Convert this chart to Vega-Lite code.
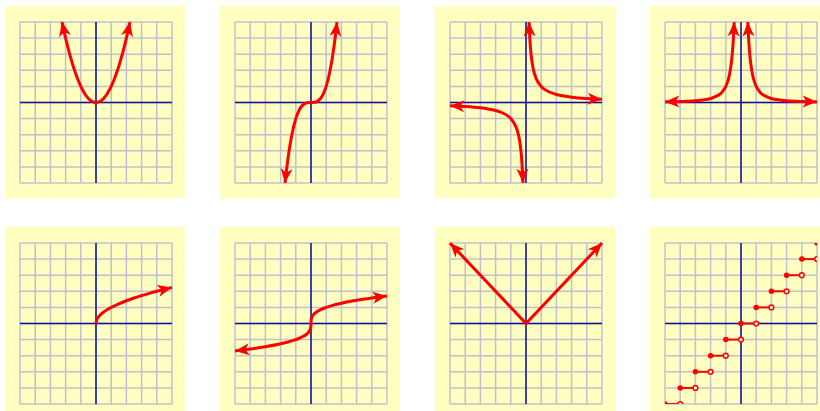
{
"$schema": "https://vega.github.io/schema/vega-lite/v6.json",
"background": "white",
"padding": {"left": 4, "top": 5, "right": 0, "bottom": 0},
"bounds": "flush",
"columns": 4,
"spacing": {"row": 60, "column": 63},
"config": {"view": {"stroke": null}, "axis": {"disable": true}},
"datasets": {
"grid": [{"g":-5},{"g":-4},{"g":-3},{"g":-2},{"g":-1},{"g":0},{"g":1},{"g":2},{"g":3},{"g":4},{"g":5}],
"curves": [
{"panel":1,"branch":"a","x":-2.236,"y":5},{"panel":1,"branch":"a","x":-2,"y":4},{"panel":1,"branch":"a","x":-1.75,"y":3.0625},{"panel":1,"branch":"a","x":-1.5,"y":2.25},{"panel":1,"branch":"a","x":-1.25,"y":1.5625},{"panel":1,"branch":"a","x":-1,"y":1},{"panel":1,"branch":"a","x":-0.75,"y":0.5625},{"panel":1,"branch":"a","x":-0.5,"y":0.25},{"panel":1,"branch":"a","x":-0.25,"y":0.0625},{"panel":1,"branch":"a","x":0,"y":0},{"panel":1,"branch":"a","x":0.25,"y":0.0625},{"panel":1,"branch":"a","x":0.5,"y":0.25},{"panel":1,"branch":"a","x":0.75,"y":0.5625},{"panel":1,"branch":"a","x":1,"y":1},{"panel":1,"branch":"a","x":1.25,"y":1.5625},{"panel":1,"branch":"a","x":1.5,"y":2.25},{"panel":1,"branch":"a","x":1.75,"y":3.0625},{"panel":1,"branch":"a","x":2,"y":4},{"panel":1,"branch":"a","x":2.236,"y":5},
{"panel":2,"branch":"a","x":-1.71,"y":-5},{"panel":2,"branch":"a","x":-1.5,"y":-3.375},{"panel":2,"branch":"a","x":-1.25,"y":-1.953},{"panel":2,"branch":"a","x":-1,"y":-1},{"panel":2,"branch":"a","x":-0.75,"y":-0.422},{"panel":2,"branch":"a","x":-0.5,"y":-0.125},{"panel":2,"branch":"a","x":-0.25,"y":-0.016},{"panel":2,"branch":"a","x":0,"y":0},{"panel":2,"branch":"a","x":0.25,"y":0.016},{"panel":2,"branch":"a","x":0.5,"y":0.125},{"panel":2,"branch":"a","x":0.75,"y":0.422},{"panel":2,"branch":"a","x":1,"y":1},{"panel":2,"branch":"a","x":1.25,"y":1.953},{"panel":2,"branch":"a","x":1.5,"y":3.375},{"panel":2,"branch":"a","x":1.71,"y":5},
{"panel":3,"branch":"p","x":0.2,"y":5},{"panel":3,"branch":"p","x":0.25,"y":4},{"panel":3,"branch":"p","x":0.3,"y":3.333},{"panel":3,"branch":"p","x":0.35,"y":2.857},{"panel":3,"branch":"p","x":0.4,"y":2.5},{"panel":3,"branch":"p","x":0.5,"y":2},{"panel":3,"branch":"p","x":0.6,"y":1.667},{"panel":3,"branch":"p","x":0.75,"y":1.333},{"panel":3,"branch":"p","x":1,"y":1},{"panel":3,"branch":"p","x":1.25,"y":0.8},{"panel":3,"branch":"p","x":1.5,"y":0.667},{"panel":3,"branch":"p","x":2,"y":0.5},{"panel":3,"branch":"p","x":2.5,"y":0.4},{"panel":3,"branch":"p","x":3,"y":0.333},{"panel":3,"branch":"p","x":4,"y":0.25},{"panel":3,"branch":"p","x":5,"y":0.2},
{"panel":3,"branch":"n","x":-0.2,"y":-5},{"panel":3,"branch":"n","x":-0.25,"y":-4},{"panel":3,"branch":"n","x":-0.3,"y":-3.333},{"panel":3,"branch":"n","x":-0.35,"y":-2.857},{"panel":3,"branch":"n","x":-0.4,"y":-2.5},{"panel":3,"branch":"n","x":-0.5,"y":-2},{"panel":3,"branch":"n","x":-0.6,"y":-1.667},{"panel":3,"branch":"n","x":-0.75,"y":-1.333},{"panel":3,"branch":"n","x":-1,"y":-1},{"panel":3,"branch":"n","x":-1.25,"y":-0.8},{"panel":3,"branch":"n","x":-1.5,"y":-0.667},{"panel":3,"branch":"n","x":-2,"y":-0.5},{"panel":3,"branch":"n","x":-2.5,"y":-0.4},{"panel":3,"branch":"n","x":-3,"y":-0.333},{"panel":3,"branch":"n","x":-4,"y":-0.25},{"panel":3,"branch":"n","x":-5,"y":-0.2},
{"panel":4,"branch":"p","x":0.447,"y":5},{"panel":4,"branch":"p","x":0.5,"y":4},{"panel":4,"branch":"p","x":0.55,"y":3.306},{"panel":4,"branch":"p","x":0.6,"y":2.778},{"panel":4,"branch":"p","x":0.7,"y":2.041},{"panel":4,"branch":"p","x":0.8,"y":1.563},{"panel":4,"branch":"p","x":0.9,"y":1.235},{"panel":4,"branch":"p","x":1,"y":1},{"panel":4,"branch":"p","x":1.25,"y":0.64},{"panel":4,"branch":"p","x":1.5,"y":0.444},{"panel":4,"branch":"p","x":2,"y":0.25},{"panel":4,"branch":"p","x":2.5,"y":0.16},{"panel":4,"branch":"p","x":3,"y":0.111},{"panel":4,"branch":"p","x":4,"y":0.0625},{"panel":4,"branch":"p","x":5,"y":0.04},
{"panel":4,"branch":"n","x":-0.447,"y":5},{"panel":4,"branch":"n","x":-0.5,"y":4},{"panel":4,"branch":"n","x":-0.55,"y":3.306},{"panel":4,"branch":"n","x":-0.6,"y":2.778},{"panel":4,"branch":"n","x":-0.7,"y":2.041},{"panel":4,"branch":"n","x":-0.8,"y":1.563},{"panel":4,"branch":"n","x":-0.9,"y":1.235},{"panel":4,"branch":"n","x":-1,"y":1},{"panel":4,"branch":"n","x":-1.25,"y":0.64},{"panel":4,"branch":"n","x":-1.5,"y":0.444},{"panel":4,"branch":"n","x":-2,"y":0.25},{"panel":4,"branch":"n","x":-2.5,"y":0.16},{"panel":4,"branch":"n","x":-3,"y":0.111},{"panel":4,"branch":"n","x":-4,"y":0.0625},{"panel":4,"branch":"n","x":-5,"y":0.04},
{"panel":5,"branch":"a","x":0,"y":0},{"panel":5,"branch":"a","x":0.05,"y":0.224},{"panel":5,"branch":"a","x":0.15,"y":0.387},{"panel":5,"branch":"a","x":0.3,"y":0.548},{"panel":5,"branch":"a","x":0.5,"y":0.707},{"panel":5,"branch":"a","x":0.75,"y":0.866},{"panel":5,"branch":"a","x":1,"y":1},{"panel":5,"branch":"a","x":1.5,"y":1.225},{"panel":5,"branch":"a","x":2,"y":1.414},{"panel":5,"branch":"a","x":2.5,"y":1.581},{"panel":5,"branch":"a","x":3,"y":1.732},{"panel":5,"branch":"a","x":3.5,"y":1.871},{"panel":5,"branch":"a","x":4,"y":2},{"panel":5,"branch":"a","x":4.5,"y":2.121},{"panel":5,"branch":"a","x":5,"y":2.236},
{"panel":6,"branch":"a","x":-5,"y":-1.71},{"panel":6,"branch":"a","x":-4,"y":-1.587},{"panel":6,"branch":"a","x":-3,"y":-1.442},{"panel":6,"branch":"a","x":-2,"y":-1.26},{"panel":6,"branch":"a","x":-1.5,"y":-1.145},{"panel":6,"branch":"a","x":-1,"y":-1},{"panel":6,"branch":"a","x":-0.5,"y":-0.794},{"panel":6,"branch":"a","x":-0.25,"y":-0.63},{"panel":6,"branch":"a","x":-0.1,"y":-0.464},{"panel":6,"branch":"a","x":-0.02,"y":-0.271},{"panel":6,"branch":"a","x":0,"y":0},{"panel":6,"branch":"a","x":0.02,"y":0.271},{"panel":6,"branch":"a","x":0.1,"y":0.464},{"panel":6,"branch":"a","x":0.25,"y":0.63},{"panel":6,"branch":"a","x":0.5,"y":0.794},{"panel":6,"branch":"a","x":1,"y":1},{"panel":6,"branch":"a","x":1.5,"y":1.145},{"panel":6,"branch":"a","x":2,"y":1.26},{"panel":6,"branch":"a","x":3,"y":1.442},{"panel":6,"branch":"a","x":4,"y":1.587},{"panel":6,"branch":"a","x":5,"y":1.71},
{"panel":7,"branch":"a","x":-5,"y":5},{"panel":7,"branch":"a","x":0,"y":0},{"panel":7,"branch":"a","x":5,"y":5}
],
"arrows": [
{"panel":1,"x":-2.236,"y":5,"heading":-11.9},{"panel":1,"x":2.236,"y":5,"heading":11.9},
{"panel":2,"x":1.71,"y":5,"heading":6.2},{"panel":2,"x":-1.71,"y":-5,"heading":186.2},
{"panel":3,"x":0.2,"y":5,"heading":-2.2},{"panel":3,"x":5,"y":0.2,"heading":92.4},{"panel":3,"x":-5,"y":-0.2,"heading":-87.6},{"panel":3,"x":-0.2,"y":-5,"heading":177.8},
{"panel":4,"x":0.447,"y":5,"heading":-2.4},{"panel":4,"x":5,"y":0.04,"heading":91},{"panel":4,"x":-0.447,"y":5,"heading":2.4},{"panel":4,"x":-5,"y":0.04,"heading":-91},
{"panel":5,"x":5,"y":2.236,"heading":76.7},
{"panel":6,"x":5,"y":1.71,"heading":83.1},{"panel":6,"x":-5,"y":-1.71,"heading":-96.9},
{"panel":7,"x":-5,"y":5,"heading":-43.4},{"panel":7,"x":5,"y":5,"heading":43.4}
],
"steps": [
{"x":-5,"xe":-4,"y":-5},{"x":-4,"xe":-3,"y":-4},{"x":-3,"xe":-2,"y":-3},{"x":-2,"xe":-1,"y":-2},{"x":-1,"xe":0,"y":-1},{"x":0,"xe":1,"y":0},{"x":1,"xe":2,"y":1},{"x":2,"xe":3,"y":2},{"x":3,"xe":4,"y":3},{"x":4,"xe":5,"y":4}
],
"dots": [
{"kind":"closed","x":-5,"y":-5},{"kind":"closed","x":-4,"y":-4},{"kind":"closed","x":-3,"y":-3},{"kind":"closed","x":-2,"y":-2},{"kind":"closed","x":-1,"y":-1},{"kind":"closed","x":0,"y":0},{"kind":"closed","x":1,"y":1},{"kind":"closed","x":2,"y":2},{"kind":"closed","x":3,"y":3},{"kind":"closed","x":4,"y":4},{"kind":"closed","x":5,"y":5},
{"kind":"open","x":-4,"y":-5},{"kind":"open","x":-3,"y":-4},{"kind":"open","x":-2,"y":-3},{"kind":"open","x":-1,"y":-2},{"kind":"open","x":0,"y":-1},{"kind":"open","x":1,"y":0},{"kind":"open","x":2,"y":1},{"kind":"open","x":3,"y":2},{"kind":"open","x":4,"y":3},{"kind":"open","x":5,"y":4}
]
},
"concat": [
{"width":152,"height":161,"layer":[
{"data":{"values":[{}]},"mark":{"type":"rect","color":"#ffffc0"},"encoding":{"x":{"datum":-6,"type":"quantitative","scale":{"domain":[-5,5],"nice":false,"zero":false}},"x2":{"datum":5.85},"y":{"datum":-5.95,"type":"quantitative","scale":{"domain":[-5,5],"nice":false,"zero":false}},"y2":{"datum":6}}},
{"data":{"name":"grid"},"mark":{"type":"rule","color":"#c0c0d0","strokeWidth":1.5},"encoding":{"x":{"field":"g","type":"quantitative","scale":{"domain":[-5,5],"nice":false,"zero":false}},"y":{"datum":-5,"type":"quantitative","scale":{"domain":[-5,5],"nice":false,"zero":false}},"y2":{"datum":5}}},
{"data":{"name":"grid"},"mark":{"type":"rule","color":"#c0c0d0","strokeWidth":1.5},"encoding":{"y":{"field":"g","type":"quantitative","scale":{"domain":[-5,5],"nice":false,"zero":false}},"x":{"datum":-5,"type":"quantitative","scale":{"domain":[-5,5],"nice":false,"zero":false}},"x2":{"datum":5}}},
{"data":{"values":[{}]},"mark":{"type":"rule","color":"#101090","strokeWidth":1.5},"encoding":{"x":{"datum":0,"type":"quantitative","scale":{"domain":[-5,5],"nice":false,"zero":false}},"y":{"datum":-5,"type":"quantitative","scale":{"domain":[-5,5],"nice":false,"zero":false}},"y2":{"datum":5}}},
{"data":{"values":[{}]},"mark":{"type":"rule","color":"#101090","strokeWidth":1.5},"encoding":{"y":{"datum":0,"type":"quantitative","scale":{"domain":[-5,5],"nice":false,"zero":false}},"x":{"datum":-5,"type":"quantitative","scale":{"domain":[-5,5],"nice":false,"zero":false}},"x2":{"datum":5}}},
{"data":{"name":"curves"},"transform":[{"filter":"datum.panel==1"}],"mark":{"type":"line","color":"#ff0000","strokeWidth":3,"interpolate":"monotone","strokeCap":"butt"},"encoding":{"x":{"field":"x","type":"quantitative","scale":{"domain":[-5,5],"nice":false,"zero":false}},"y":{"field":"y","type":"quantitative","scale":{"domain":[-5,5],"nice":false,"zero":false}},"detail":{"field":"branch"}}},
{"data":{"name":"arrows"},"transform":[{"filter":"datum.panel==1"}],"mark":{"type":"point","shape":"M0,0L0.75,1.8L0,1.3L-0.75,1.8Z","filled":true,"color":"#ff0000","opacity":1,"size":256,"strokeWidth":0},"encoding":{"x":{"field":"x","type":"quantitative","scale":{"domain":[-5,5],"nice":false,"zero":false}},"y":{"field":"y","type":"quantitative","scale":{"domain":[-5,5],"nice":false,"zero":false}},"angle":{"field":"heading","type":"quantitative","scale":null}}}
]},
{"width":152,"height":161,"layer":[
{"data":{"values":[{}]},"mark":{"type":"rect","color":"#ffffc0"},"encoding":{"x":{"datum":-6,"type":"quantitative","scale":{"domain":[-5,5],"nice":false,"zero":false}},"x2":{"datum":5.85},"y":{"datum":-5.95,"type":"quantitative","scale":{"domain":[-5,5],"nice":false,"zero":false}},"y2":{"datum":6}}},
{"data":{"name":"grid"},"mark":{"type":"rule","color":"#c0c0d0","strokeWidth":1.5},"encoding":{"x":{"field":"g","type":"quantitative","scale":{"domain":[-5,5],"nice":false,"zero":false}},"y":{"datum":-5,"type":"quantitative","scale":{"domain":[-5,5],"nice":false,"zero":false}},"y2":{"datum":5}}},
{"data":{"name":"grid"},"mark":{"type":"rule","color":"#c0c0d0","strokeWidth":1.5},"encoding":{"y":{"field":"g","type":"quantitative","scale":{"domain":[-5,5],"nice":false,"zero":false}},"x":{"datum":-5,"type":"quantitative","scale":{"domain":[-5,5],"nice":false,"zero":false}},"x2":{"datum":5}}},
{"data":{"values":[{}]},"mark":{"type":"rule","color":"#101090","strokeWidth":1.5},"encoding":{"x":{"datum":0,"type":"quantitative","scale":{"domain":[-5,5],"nice":false,"zero":false}},"y":{"datum":-5,"type":"quantitative","scale":{"domain":[-5,5],"nice":false,"zero":false}},"y2":{"datum":5}}},
{"data":{"values":[{}]},"mark":{"type":"rule","color":"#101090","strokeWidth":1.5},"encoding":{"y":{"datum":0,"type":"quantitative","scale":{"domain":[-5,5],"nice":false,"zero":false}},"x":{"datum":-5,"type":"quantitative","scale":{"domain":[-5,5],"nice":false,"zero":false}},"x2":{"datum":5}}},
{"data":{"name":"curves"},"transform":[{"filter":"datum.panel==2"}],"mark":{"type":"line","color":"#ff0000","strokeWidth":3,"interpolate":"monotone","strokeCap":"butt"},"encoding":{"x":{"field":"x","type":"quantitative","scale":{"domain":[-5,5],"nice":false,"zero":false}},"y":{"field":"y","type":"quantitative","scale":{"domain":[-5,5],"nice":false,"zero":false}},"detail":{"field":"branch"}}},
{"data":{"name":"arrows"},"transform":[{"filter":"datum.panel==2"}],"mark":{"type":"point","shape":"M0,0L0.75,1.8L0,1.3L-0.75,1.8Z","filled":true,"color":"#ff0000","opacity":1,"size":256,"strokeWidth":0},"encoding":{"x":{"field":"x","type":"quantitative","scale":{"domain":[-5,5],"nice":false,"zero":false}},"y":{"field":"y","type":"quantitative","scale":{"domain":[-5,5],"nice":false,"zero":false}},"angle":{"field":"heading","type":"quantitative","scale":null}}}
]},
{"width":152,"height":161,"layer":[
{"data":{"values":[{}]},"mark":{"type":"rect","color":"#ffffc0"},"encoding":{"x":{"datum":-6,"type":"quantitative","scale":{"domain":[-5,5],"nice":false,"zero":false}},"x2":{"datum":5.85},"y":{"datum":-5.95,"type":"quantitative","scale":{"domain":[-5,5],"nice":false,"zero":false}},"y2":{"datum":6}}},
{"data":{"name":"grid"},"mark":{"type":"rule","color":"#c0c0d0","strokeWidth":1.5},"encoding":{"x":{"field":"g","type":"quantitative","scale":{"domain":[-5,5],"nice":false,"zero":false}},"y":{"datum":-5,"type":"quantitative","scale":{"domain":[-5,5],"nice":false,"zero":false}},"y2":{"datum":5}}},
{"data":{"name":"grid"},"mark":{"type":"rule","color":"#c0c0d0","strokeWidth":1.5},"encoding":{"y":{"field":"g","type":"quantitative","scale":{"domain":[-5,5],"nice":false,"zero":false}},"x":{"datum":-5,"type":"quantitative","scale":{"domain":[-5,5],"nice":false,"zero":false}},"x2":{"datum":5}}},
{"data":{"values":[{}]},"mark":{"type":"rule","color":"#101090","strokeWidth":1.5},"encoding":{"x":{"datum":0,"type":"quantitative","scale":{"domain":[-5,5],"nice":false,"zero":false}},"y":{"datum":-5,"type":"quantitative","scale":{"domain":[-5,5],"nice":false,"zero":false}},"y2":{"datum":5}}},
{"data":{"values":[{}]},"mark":{"type":"rule","color":"#101090","strokeWidth":1.5},"encoding":{"y":{"datum":0,"type":"quantitative","scale":{"domain":[-5,5],"nice":false,"zero":false}},"x":{"datum":-5,"type":"quantitative","scale":{"domain":[-5,5],"nice":false,"zero":false}},"x2":{"datum":5}}},
{"data":{"name":"curves"},"transform":[{"filter":"datum.panel==3"}],"mark":{"type":"line","color":"#ff0000","strokeWidth":3,"interpolate":"monotone","strokeCap":"butt"},"encoding":{"x":{"field":"x","type":"quantitative","scale":{"domain":[-5,5],"nice":false,"zero":false}},"y":{"field":"y","type":"quantitative","scale":{"domain":[-5,5],"nice":false,"zero":false}},"detail":{"field":"branch"}}},
{"data":{"name":"arrows"},"transform":[{"filter":"datum.panel==3"}],"mark":{"type":"point","shape":"M0,0L0.75,1.8L0,1.3L-0.75,1.8Z","filled":true,"color":"#ff0000","opacity":1,"size":256,"strokeWidth":0},"encoding":{"x":{"field":"x","type":"quantitative","scale":{"domain":[-5,5],"nice":false,"zero":false}},"y":{"field":"y","type":"quantitative","scale":{"domain":[-5,5],"nice":false,"zero":false}},"angle":{"field":"heading","type":"quantitative","scale":null}}}
]},
{"width":152,"height":161,"layer":[
{"data":{"values":[{}]},"mark":{"type":"rect","color":"#ffffc0"},"encoding":{"x":{"datum":-6,"type":"quantitative","scale":{"domain":[-5,5],"nice":false,"zero":false}},"x2":{"datum":5.85},"y":{"datum":-5.95,"type":"quantitative","scale":{"domain":[-5,5],"nice":false,"zero":false}},"y2":{"datum":6}}},
{"data":{"name":"grid"},"mark":{"type":"rule","color":"#c0c0d0","strokeWidth":1.5},"encoding":{"x":{"field":"g","type":"quantitative","scale":{"domain":[-5,5],"nice":false,"zero":false}},"y":{"datum":-5,"type":"quantitative","scale":{"domain":[-5,5],"nice":false,"zero":false}},"y2":{"datum":5}}},
{"data":{"name":"grid"},"mark":{"type":"rule","color":"#c0c0d0","strokeWidth":1.5},"encoding":{"y":{"field":"g","type":"quantitative","scale":{"domain":[-5,5],"nice":false,"zero":false}},"x":{"datum":-5,"type":"quantitative","scale":{"domain":[-5,5],"nice":false,"zero":false}},"x2":{"datum":5}}},
{"data":{"values":[{}]},"mark":{"type":"rule","color":"#101090","strokeWidth":1.5},"encoding":{"x":{"datum":0,"type":"quantitative","scale":{"domain":[-5,5],"nice":false,"zero":false}},"y":{"datum":-5,"type":"quantitative","scale":{"domain":[-5,5],"nice":false,"zero":false}},"y2":{"datum":5}}},
{"data":{"values":[{}]},"mark":{"type":"rule","color":"#101090","strokeWidth":1.5},"encoding":{"y":{"datum":0,"type":"quantitative","scale":{"domain":[-5,5],"nice":false,"zero":false}},"x":{"datum":-5,"type":"quantitative","scale":{"domain":[-5,5],"nice":false,"zero":false}},"x2":{"datum":5}}},
{"data":{"name":"curves"},"transform":[{"filter":"datum.panel==4"}],"mark":{"type":"line","color":"#ff0000","strokeWidth":3,"interpolate":"monotone","strokeCap":"butt"},"encoding":{"x":{"field":"x","type":"quantitative","scale":{"domain":[-5,5],"nice":false,"zero":false}},"y":{"field":"y","type":"quantitative","scale":{"domain":[-5,5],"nice":false,"zero":false}},"detail":{"field":"branch"}}},
{"data":{"name":"arrows"},"transform":[{"filter":"datum.panel==4"}],"mark":{"type":"point","shape":"M0,0L0.75,1.8L0,1.3L-0.75,1.8Z","filled":true,"color":"#ff0000","opacity":1,"size":256,"strokeWidth":0},"encoding":{"x":{"field":"x","type":"quantitative","scale":{"domain":[-5,5],"nice":false,"zero":false}},"y":{"field":"y","type":"quantitative","scale":{"domain":[-5,5],"nice":false,"zero":false}},"angle":{"field":"heading","type":"quantitative","scale":null}}}
]},
{"width":152,"height":161,"layer":[
{"data":{"values":[{}]},"mark":{"type":"rect","color":"#ffffc0"},"encoding":{"x":{"datum":-6,"type":"quantitative","scale":{"domain":[-5,5],"nice":false,"zero":false}},"x2":{"datum":5.85},"y":{"datum":-5.95,"type":"quantitative","scale":{"domain":[-5,5],"nice":false,"zero":false}},"y2":{"datum":6}}},
{"data":{"name":"grid"},"mark":{"type":"rule","color":"#c0c0d0","strokeWidth":1.5},"encoding":{"x":{"field":"g","type":"quantitative","scale":{"domain":[-5,5],"nice":false,"zero":false}},"y":{"datum":-5,"type":"quantitative","scale":{"domain":[-5,5],"nice":false,"zero":false}},"y2":{"datum":5}}},
{"data":{"name":"grid"},"mark":{"type":"rule","color":"#c0c0d0","strokeWidth":1.5},"encoding":{"y":{"field":"g","type":"quantitative","scale":{"domain":[-5,5],"nice":false,"zero":false}},"x":{"datum":-5,"type":"quantitative","scale":{"domain":[-5,5],"nice":false,"zero":false}},"x2":{"datum":5}}},
{"data":{"values":[{}]},"mark":{"type":"rule","color":"#101090","strokeWidth":1.5},"encoding":{"x":{"datum":0,"type":"quantitative","scale":{"domain":[-5,5],"nice":false,"zero":false}},"y":{"datum":-5,"type":"quantitative","scale":{"domain":[-5,5],"nice":false,"zero":false}},"y2":{"datum":5}}},
{"data":{"values":[{}]},"mark":{"type":"rule","color":"#101090","strokeWidth":1.5},"encoding":{"y":{"datum":0,"type":"quantitative","scale":{"domain":[-5,5],"nice":false,"zero":false}},"x":{"datum":-5,"type":"quantitative","scale":{"domain":[-5,5],"nice":false,"zero":false}},"x2":{"datum":5}}},
{"data":{"name":"curves"},"transform":[{"filter":"datum.panel==5"}],"mark":{"type":"line","color":"#ff0000","strokeWidth":3,"interpolate":"monotone","strokeCap":"butt"},"encoding":{"x":{"field":"x","type":"quantitative","scale":{"domain":[-5,5],"nice":false,"zero":false}},"y":{"field":"y","type":"quantitative","scale":{"domain":[-5,5],"nice":false,"zero":false}},"detail":{"field":"branch"}}},
{"data":{"name":"arrows"},"transform":[{"filter":"datum.panel==5"}],"mark":{"type":"point","shape":"M0,0L0.75,1.8L0,1.3L-0.75,1.8Z","filled":true,"color":"#ff0000","opacity":1,"size":256,"strokeWidth":0},"encoding":{"x":{"field":"x","type":"quantitative","scale":{"domain":[-5,5],"nice":false,"zero":false}},"y":{"field":"y","type":"quantitative","scale":{"domain":[-5,5],"nice":false,"zero":false}},"angle":{"field":"heading","type":"quantitative","scale":null}}}
]},
{"width":152,"height":161,"layer":[
{"data":{"values":[{}]},"mark":{"type":"rect","color":"#ffffc0"},"encoding":{"x":{"datum":-6,"type":"quantitative","scale":{"domain":[-5,5],"nice":false,"zero":false}},"x2":{"datum":5.85},"y":{"datum":-5.95,"type":"quantitative","scale":{"domain":[-5,5],"nice":false,"zero":false}},"y2":{"datum":6}}},
{"data":{"name":"grid"},"mark":{"type":"rule","color":"#c0c0d0","strokeWidth":1.5},"encoding":{"x":{"field":"g","type":"quantitative","scale":{"domain":[-5,5],"nice":false,"zero":false}},"y":{"datum":-5,"type":"quantitative","scale":{"domain":[-5,5],"nice":false,"zero":false}},"y2":{"datum":5}}},
{"data":{"name":"grid"},"mark":{"type":"rule","color":"#c0c0d0","strokeWidth":1.5},"encoding":{"y":{"field":"g","type":"quantitative","scale":{"domain":[-5,5],"nice":false,"zero":false}},"x":{"datum":-5,"type":"quantitative","scale":{"domain":[-5,5],"nice":false,"zero":false}},"x2":{"datum":5}}},
{"data":{"values":[{}]},"mark":{"type":"rule","color":"#101090","strokeWidth":1.5},"encoding":{"x":{"datum":0,"type":"quantitative","scale":{"domain":[-5,5],"nice":false,"zero":false}},"y":{"datum":-5,"type":"quantitative","scale":{"domain":[-5,5],"nice":false,"zero":false}},"y2":{"datum":5}}},
{"data":{"values":[{}]},"mark":{"type":"rule","color":"#101090","strokeWidth":1.5},"encoding":{"y":{"datum":0,"type":"quantitative","scale":{"domain":[-5,5],"nice":false,"zero":false}},"x":{"datum":-5,"type":"quantitative","scale":{"domain":[-5,5],"nice":false,"zero":false}},"x2":{"datum":5}}},
{"data":{"name":"curves"},"transform":[{"filter":"datum.panel==6"}],"mark":{"type":"line","color":"#ff0000","strokeWidth":3,"interpolate":"monotone","strokeCap":"butt"},"encoding":{"x":{"field":"x","type":"quantitative","scale":{"domain":[-5,5],"nice":false,"zero":false}},"y":{"field":"y","type":"quantitative","scale":{"domain":[-5,5],"nice":false,"zero":false}},"detail":{"field":"branch"}}},
{"data":{"name":"arrows"},"transform":[{"filter":"datum.panel==6"}],"mark":{"type":"point","shape":"M0,0L0.75,1.8L0,1.3L-0.75,1.8Z","filled":true,"color":"#ff0000","opacity":1,"size":256,"strokeWidth":0},"encoding":{"x":{"field":"x","type":"quantitative","scale":{"domain":[-5,5],"nice":false,"zero":false}},"y":{"field":"y","type":"quantitative","scale":{"domain":[-5,5],"nice":false,"zero":false}},"angle":{"field":"heading","type":"quantitative","scale":null}}}
]},
{"width":152,"height":161,"layer":[
{"data":{"values":[{}]},"mark":{"type":"rect","color":"#ffffc0"},"encoding":{"x":{"datum":-6,"type":"quantitative","scale":{"domain":[-5,5],"nice":false,"zero":false}},"x2":{"datum":5.85},"y":{"datum":-5.95,"type":"quantitative","scale":{"domain":[-5,5],"nice":false,"zero":false}},"y2":{"datum":6}}},
{"data":{"name":"grid"},"mark":{"type":"rule","color":"#c0c0d0","strokeWidth":1.5},"encoding":{"x":{"field":"g","type":"quantitative","scale":{"domain":[-5,5],"nice":false,"zero":false}},"y":{"datum":-5,"type":"quantitative","scale":{"domain":[-5,5],"nice":false,"zero":false}},"y2":{"datum":5}}},
{"data":{"name":"grid"},"mark":{"type":"rule","color":"#c0c0d0","strokeWidth":1.5},"encoding":{"y":{"field":"g","type":"quantitative","scale":{"domain":[-5,5],"nice":false,"zero":false}},"x":{"datum":-5,"type":"quantitative","scale":{"domain":[-5,5],"nice":false,"zero":false}},"x2":{"datum":5}}},
{"data":{"values":[{}]},"mark":{"type":"rule","color":"#101090","strokeWidth":1.5},"encoding":{"x":{"datum":0,"type":"quantitative","scale":{"domain":[-5,5],"nice":false,"zero":false}},"y":{"datum":-5,"type":"quantitative","scale":{"domain":[-5,5],"nice":false,"zero":false}},"y2":{"datum":5}}},
{"data":{"values":[{}]},"mark":{"type":"rule","color":"#101090","strokeWidth":1.5},"encoding":{"y":{"datum":0,"type":"quantitative","scale":{"domain":[-5,5],"nice":false,"zero":false}},"x":{"datum":-5,"type":"quantitative","scale":{"domain":[-5,5],"nice":false,"zero":false}},"x2":{"datum":5}}},
{"data":{"name":"curves"},"transform":[{"filter":"datum.panel==7"}],"mark":{"type":"line","color":"#ff0000","strokeWidth":3,"interpolate":"linear","strokeCap":"butt"},"encoding":{"x":{"field":"x","type":"quantitative","scale":{"domain":[-5,5],"nice":false,"zero":false}},"y":{"field":"y","type":"quantitative","scale":{"domain":[-5,5],"nice":false,"zero":false}},"detail":{"field":"branch"}}},
{"data":{"name":"arrows"},"transform":[{"filter":"datum.panel==7"}],"mark":{"type":"point","shape":"M0,0L0.75,1.8L0,1.3L-0.75,1.8Z","filled":true,"color":"#ff0000","opacity":1,"size":256,"strokeWidth":0},"encoding":{"x":{"field":"x","type":"quantitative","scale":{"domain":[-5,5],"nice":false,"zero":false}},"y":{"field":"y","type":"quantitative","scale":{"domain":[-5,5],"nice":false,"zero":false}},"angle":{"field":"heading","type":"quantitative","scale":null}}}
]},
{"width":152,"height":161,"layer":[
{"data":{"values":[{}]},"mark":{"type":"rect","color":"#ffffc0"},"encoding":{"x":{"datum":-6,"type":"quantitative","scale":{"domain":[-5,5],"nice":false,"zero":false}},"x2":{"datum":5.85},"y":{"datum":-5.95,"type":"quantitative","scale":{"domain":[-5,5],"nice":false,"zero":false}},"y2":{"datum":6}}},
{"data":{"name":"grid"},"mark":{"type":"rule","color":"#c0c0d0","strokeWidth":1.5},"encoding":{"x":{"field":"g","type":"quantitative","scale":{"domain":[-5,5],"nice":false,"zero":false}},"y":{"datum":-5,"type":"quantitative","scale":{"domain":[-5,5],"nice":false,"zero":false}},"y2":{"datum":5}}},
{"data":{"name":"grid"},"mark":{"type":"rule","color":"#c0c0d0","strokeWidth":1.5},"encoding":{"y":{"field":"g","type":"quantitative","scale":{"domain":[-5,5],"nice":false,"zero":false}},"x":{"datum":-5,"type":"quantitative","scale":{"domain":[-5,5],"nice":false,"zero":false}},"x2":{"datum":5}}},
{"data":{"values":[{}]},"mark":{"type":"rule","color":"#101090","strokeWidth":1.5},"encoding":{"x":{"datum":0,"type":"quantitative","scale":{"domain":[-5,5],"nice":false,"zero":false}},"y":{"datum":-5,"type":"quantitative","scale":{"domain":[-5,5],"nice":false,"zero":false}},"y2":{"datum":5}}},
{"data":{"values":[{}]},"mark":{"type":"rule","color":"#101090","strokeWidth":1.5},"encoding":{"y":{"datum":0,"type":"quantitative","scale":{"domain":[-5,5],"nice":false,"zero":false}},"x":{"datum":-5,"type":"quantitative","scale":{"domain":[-5,5],"nice":false,"zero":false}},"x2":{"datum":5}}},
{"data":{"name":"steps"},"mark":{"type":"rule","color":"#ff0000","strokeWidth":2,"clip":true},"encoding":{"x":{"field":"x","type":"quantitative","scale":{"domain":[-5,5],"nice":false,"zero":false}},"x2":{"field":"xe"},"y":{"field":"y","type":"quantitative","scale":{"domain":[-5,5],"nice":false,"zero":false}}}},
{"data":{"name":"dots"},"transform":[{"filter":"datum.kind=='closed'"}],"mark":{"type":"point","shape":"circle","filled":true,"color":"#ff0000","opacity":1,"size":30,"clip":true},"encoding":{"x":{"field":"x","type":"quantitative","scale":{"domain":[-5,5],"nice":false,"zero":false}},"y":{"field":"y","type":"quantitative","scale":{"domain":[-5,5],"nice":false,"zero":false}}}},
{"data":{"name":"dots"},"transform":[{"filter":"datum.kind=='open'"}],"mark":{"type":"point","shape":"circle","filled":false,"fill":"#ffffff","fillOpacity":1,"stroke":"#ff0000","strokeWidth":1.5,"opacity":1,"size":22,"clip":true},"encoding":{"x":{"field":"x","type":"quantitative","scale":{"domain":[-5,5],"nice":false,"zero":false}},"y":{"field":"y","type":"quantitative","scale":{"domain":[-5,5],"nice":false,"zero":false}}}}
]}
]
}
